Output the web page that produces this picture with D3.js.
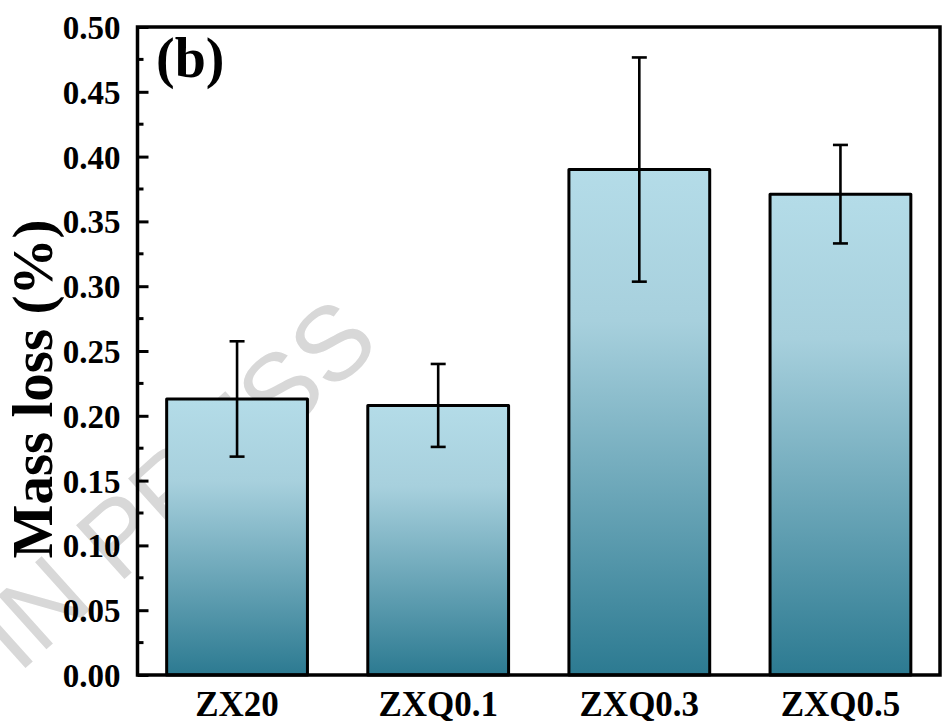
<!DOCTYPE html>
<html>
<head>
<meta charset="utf-8">
<script src="https://cdn.jsdelivr.net/npm/d3@7/dist/d3.min.js"></script>
<style>
  html, body { margin: 0; padding: 0; background: #fff; }
  svg { display: block; }
  text { font-family: "Liberation Serif", "Times New Roman", serif; font-weight: bold; }
</style>
</head>
<body>
<svg id="chart" width="943" height="723"></svg>
<script>
// Mass loss per sample, with error bar half-widths
const categories = ["ZX20", "ZXQ0.1", "ZXQ0.3", "ZXQ0.5"];
const massLoss = [0.213, 0.208, 0.390, 0.371];
const errors = [0.0445, 0.032, 0.0865, 0.038];
const yTicks = [0.00, 0.05, 0.10, 0.15, 0.20, 0.25, 0.30, 0.35, 0.40, 0.45, 0.50];

const W = 943, H = 723;
const margin = { left: 137.5, right: 3, top: 27, bottom: 48 };
const svg = d3.select("#chart");
const serif = "Liberation Serif, Times New Roman, serif";

const x = d3.scaleBand()
  .domain(categories)
  .range([margin.left, W - margin.right])
  .paddingInner(0.3)
  .paddingOuter(0.145);

const y = d3.scaleLinear()
  .domain([0, 0.5])
  .range([H - margin.bottom, margin.top]);

// vertical fill gradient for the bars
const defs = svg.append("defs");
const grad = defs.append("linearGradient")
  .attr("id", "barFill")
  .attr("x1", 0).attr("y1", 0).attr("x2", 0).attr("y2", 1);
grad.append("stop").attr("offset", "0%").attr("stop-color", "#b4dce8");
grad.append("stop").attr("offset", "30%").attr("stop-color", "#a7d0dd");
grad.append("stop").attr("offset", "100%").attr("stop-color", "#2c7a91");

// faint diagonal watermark behind the plot
const wm = svg.append("text")
  .style("font-family", "Liberation Sans, Arial, sans-serif")
  .style("font-weight", "normal")
  .attr("font-size", 105)
  .attr("fill", "#d8d8d8")
  .text("ARTICLE IN PRESS");
const nOffset = wm.node().getSubStringLength(0, 9);
wm.attr("transform", `translate(40,655) rotate(-42) translate(${-nOffset},0)`);

// bars
svg.append("g").selectAll("rect")
  .data(massLoss)
  .join("rect")
  .attr("x", (d, i) => x(categories[i]))
  .attr("y", d => y(d))
  .attr("width", x.bandwidth())
  .attr("height", d => y(0) - y(d))
  .attr("fill", "url(#barFill)")
  .attr("stroke", "#000")
  .attr("stroke-width", 3)
  .attr("stroke-linejoin", "round");

// error bars
const eb = svg.append("g").attr("stroke", "#000").attr("stroke-width", 2.6);
const capHalf = 7.5;
massLoss.forEach((d, i) => {
  const cx = x(categories[i]) + x.bandwidth() / 2;
  const lo = d - errors[i], hi = d + errors[i];
  eb.append("line").attr("x1", cx).attr("x2", cx).attr("y1", y(lo)).attr("y2", y(hi));
  eb.append("line").attr("x1", cx - capHalf).attr("x2", cx + capHalf).attr("y1", y(hi)).attr("y2", y(hi));
  eb.append("line").attr("x1", cx - capHalf).attr("x2", cx + capHalf).attr("y1", y(lo)).attr("y2", y(lo));
});

// y axis: major ticks inward with labels, minor ticks between
const yAxis = d3.axisLeft(y)
  .tickValues(yTicks)
  .tickSize(-11)
  .tickPadding(17)
  .tickFormat(d3.format(".2f"));
const gy = svg.append("g")
  .attr("transform", `translate(${margin.left},0)`)
  .call(yAxis);
gy.select(".domain").remove();
gy.selectAll(".tick line").attr("stroke", "#000").attr("stroke-width", 3);
gy.selectAll(".tick text")
  .attr("font-size", 33)
  .attr("fill", "#000")
  .attr("dy", "0.35em")
  .style("font-family", serif)
  .style("font-weight", "bold");

const minor = d3.range(0.025, 0.5, 0.05);
svg.append("g").selectAll("line")
  .data(minor)
  .join("line")
  .attr("x1", margin.left)
  .attr("x2", margin.left + 6)
  .attr("y1", d => y(d))
  .attr("y2", d => y(d))
  .attr("stroke", "#000")
  .attr("stroke-width", 3);

// x axis labels
const xAxis = d3.axisBottom(x).tickSize(0).tickPadding(16);
const gx = svg.append("g")
  .attr("transform", `translate(0,${y(0)})`)
  .call(xAxis);
gx.select(".domain").remove();
gx.selectAll(".tick text")
  .attr("font-size", 35)
  .attr("fill", "#000")
  .attr("dy", "0.71em")
  .style("font-family", serif)
  .style("font-weight", "bold");

// frame
svg.append("rect")
  .attr("x", margin.left)
  .attr("y", margin.top)
  .attr("width", W - margin.right - margin.left)
  .attr("height", y(0) - margin.top)
  .attr("fill", "none")
  .attr("stroke", "#000")
  .attr("stroke-width", 3.5);

// y axis title
svg.append("text")
  .attr("transform", `translate(52,${(margin.top + y(0)) / 2 + 38}) rotate(-90)`)
  .attr("text-anchor", "middle")
  .attr("font-size", 57)
  .attr("fill", "#000")
  .text("Mass loss (%)");

// panel label
svg.append("text")
  .attr("x", 156)
  .attr("y", 77)
  .attr("font-size", 56)
  .attr("fill", "#000")
  .text("(b)");
</script>
</body>
</html>
